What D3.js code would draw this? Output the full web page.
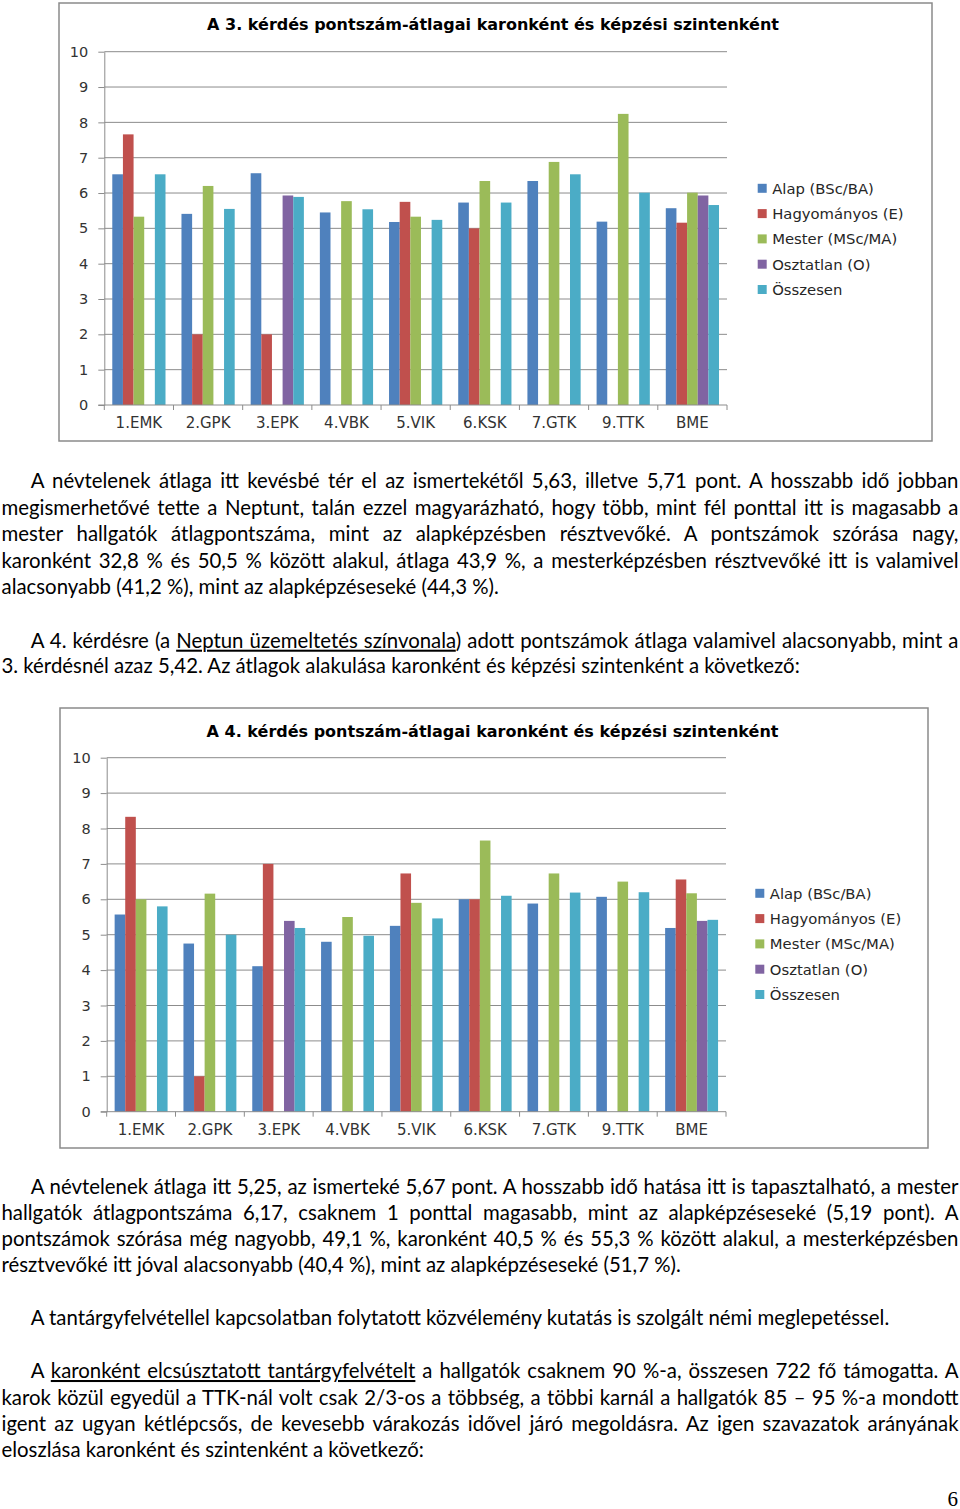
<!DOCTYPE html>
<html>
<head>
<meta charset="utf-8">
<script src="https://cdn.jsdelivr.net/npm/d3@7"></script>
<style>
  body { margin: 0; background: #fff; }
  svg { display: block; }
</style>
</head>
<body>
<div id="page"></div>
<script>
// karok + sorozatok
const categories = ["1.EMK", "2.GPK", "3.EPK", "4.VBK", "5.VIK", "6.KSK", "7.GTK", "9.TTK", "BME"];
const seriesNames = ["Alap (BSc/BA)", "Hagyományos (E)", "Mester (MSc/MA)", "Osztatlan (O)", "Összesen"];
const seriesColors = ["#4f81bd", "#c0504d", "#9bbb59", "#8064a2", "#4bacc6"];
const yTicks = [0, 1, 2, 3, 4, 5, 6, 7, 8, 9, 10];

// 3. kérdés
const q3Alap      = [6.53, 5.41, 6.56, 5.45, 5.18, 5.73, 6.34, 5.19, 5.57];
const q3Hagy      = [7.66, 2.0, 2.0, null, 5.75, 5.0, null, null, 5.16];
const q3Mester    = [5.33, 6.2, null, 5.77, 5.33, 6.34, 6.88, 8.24, 6.01];
const q3Osztatlan = [null, null, 5.93, null, null, null, null, null, 5.93];
const q3Osszesen  = [6.53, 5.55, 5.89, 5.54, 5.24, 5.73, 6.53, 6.01, 5.66];

// 4. kérdés
const q4Alap      = [5.57, 4.75, 4.11, 4.8, 5.25, 6.0, 5.88, 6.07, 5.19];
const q4Hagy      = [8.33, 1.0, 7.0, null, 6.73, 6.0, null, null, 6.56];
const q4Mester    = [6.0, 6.16, null, 5.5, 5.9, 7.66, 6.73, 6.5, 6.17];
const q4Osztatlan = [null, null, 5.39, null, null, null, null, null, 5.39];
const q4Osszesen  = [5.8, 5.0, 5.19, 4.97, 5.46, 6.1, 6.19, 6.2, 5.42];

const W = 960, H = 1509;
const svg = d3.select("#page").append("svg")
    .attr("width", W)
    .attr("height", H);

const chartFont = "'DejaVu Sans', Verdana, sans-serif";

function drawChart(cfg, title, series) {
    const g = svg.append("g");

    // keret
    g.append("rect")
        .attr("x", cfg.fx).attr("y", cfg.fy)
        .attr("width", cfg.fw).attr("height", cfg.fh)
        .attr("fill", "#fff")
        .attr("stroke", "#8a8a8a")
        .attr("stroke-width", 1.5);

    g.append("text")
        .attr("x", cfg.titleX).attr("y", cfg.titleY)
        .attr("text-anchor", "middle")
        .attr("font-family", chartFont)
        .attr("font-weight", "bold")
        .attr("font-size", 16)
        .attr("fill", "#000")
        .text(title);

    const x0 = d3.scaleBand()
        .domain(categories)
        .range([cfg.left, cfg.right])
        .paddingInner(3 / 13)
        .paddingOuter(1.5 / 13);
    const x1 = d3.scaleBand()
        .domain(d3.range(seriesNames.length))
        .range([0, x0.bandwidth()]);
    const y = d3.scaleLinear()
        .domain([0, 10])
        .range([cfg.bottom, cfg.top]);

    // rácsvonalak
    g.append("g").selectAll("line")
        .data(yTicks.filter(d => d > 0))
        .join("line")
        .attr("x1", cfg.left).attr("x2", cfg.right)
        .attr("y1", d => y(d)).attr("y2", d => y(d))
        .attr("stroke", "#8c8c8c")
        .attr("stroke-width", 1);

    const yAxis = g.append("g")
        .attr("transform", `translate(${cfg.left},0)`)
        .call(d3.axisLeft(y).tickValues(yTicks).tickSize(6).tickSizeOuter(0).tickPadding(10));
    yAxis.select(".domain").attr("stroke", "#8c8c8c");
    yAxis.selectAll(".tick line").attr("stroke", "#8c8c8c");
    yAxis.selectAll(".tick text")
        .attr("font-family", chartFont)
        .attr("font-size", 14.5)
        .attr("fill", "#333");

    // oszlopok
    const rows = categories.map((c, i) => ({ cat: c, vals: series.map(s => s[i]) }));
    g.append("g").selectAll("g")
        .data(rows)
        .join("g")
        .attr("transform", d => `translate(${x0(d.cat)},0)`)
        .selectAll("rect")
        .data(d => d.vals.map((v, k) => ({ v, k })).filter(e => e.v != null))
        .join("rect")
        .attr("x", e => x1(e.k))
        .attr("y", e => y(e.v))
        .attr("width", x1.bandwidth())
        .attr("height", e => y(0) - y(e.v))
        .attr("fill", e => seriesColors[e.k]);

    // x tengely
    g.append("line")
        .attr("x1", cfg.left - 6).attr("x2", cfg.right)
        .attr("y1", y(0)).attr("y2", y(0))
        .attr("stroke", "#8c8c8c");
    const step = x0.step();
    g.append("g").selectAll("line")
        .data(d3.range(categories.length + 1))
        .join("line")
        .attr("x1", i => cfg.left + i * step).attr("x2", i => cfg.left + i * step)
        .attr("y1", y(0)).attr("y2", y(0) + 5)
        .attr("stroke", "#8c8c8c");
    g.append("g").selectAll("text")
        .data(categories)
        .join("text")
        .attr("x", d => x0(d) + x0.bandwidth() / 2)
        .attr("y", y(0) + 23)
        .attr("text-anchor", "middle")
        .attr("font-family", chartFont)
        .attr("font-size", 15)
        .attr("fill", "#333")
        .text(d => d);

    // jelmagyarázat
    const lg = g.append("g").selectAll("g")
        .data(seriesNames)
        .join("g")
        .attr("transform", (d, i) => `translate(${cfg.legX},${cfg.legY + i * 25.3})`);
    lg.append("rect")
        .attr("x", 0).attr("y", -4.5)
        .attr("width", 9).attr("height", 9)
        .attr("fill", (d, i) => seriesColors[i]);
    lg.append("text")
        .attr("x", 14.5).attr("dy", "0.36em")
        .attr("font-family", chartFont)
        .attr("font-size", 14.8)
        .attr("fill", "#262626")
        .text(d => d);
}

drawChart(
    { fx: 59, fy: 3, fw: 873, fh: 438, left: 104.3, right: 727, top: 51.7, bottom: 405,
      titleX: 493, titleY: 30, legX: 757.7, legY: 188.3 },
    "A 3. kérdés pontszám-átlagai karonként és képzési szintenként",
    [q3Alap, q3Hagy, q3Mester, q3Osztatlan, q3Osszesen]
);
drawChart(
    { fx: 60, fy: 708, fw: 868, fh: 440, left: 106.7, right: 726, top: 757.7, bottom: 1111.7,
      titleX: 492.5, titleY: 736.5, legX: 755.3, legY: 893.3 },
    "A 4. kérdés pontszám-átlagai karonként és képzési szintenként",
    [q4Alap, q4Hagy, q4Mester, q4Osztatlan, q4Osszesen]
);

// szöveg sorai: [szegmensek, alapvonal, behúzás, sorkizárt]
const textLines = [
    [["A névtelenek átlaga itt kevésbé tér el az ismertekétől 5,63, illetve 5,71 pont. A hosszabb idő jobban"], 488.3, true, true],
    [["megismerhetővé tette a Neptunt, talán ezzel magyarázható, hogy több, mint fél ponttal itt is magasabb a"], 515, false, true],
    [["mester hallgatók átlagpontszáma, mint az alapképzésben résztvevőké. A pontszámok szórása nagy,"], 541, false, true],
    [["karonként 32,8 % és 50,5 % között alakul, átlaga 43,9 %, a mesterképzésben résztvevőké itt is valamivel"], 567.7, false, true],
    [["alacsonyabb (41,2 %), mint az alapképzéseseké (44,3 %)."], 593.7, false, false],
    [["A 4. kérdésre (a ", { u: "Neptun üzemeltetés színvonala" }, ") adott pontszámok átlaga valamivel alacsonyabb, mint a"], 647.7, true, true],
    [["3. kérdésnél azaz 5,42. Az átlagok alakulása karonként és képzési szintenként a következő:"], 673, false, false],
    [["A névtelenek átlaga itt 5,25, az ismerteké 5,67 pont. A hosszabb idő hatása itt is tapasztalható, a mester"], 1194, true, true],
    [["hallgatók átlagpontszáma 6,17, csaknem 1 ponttal magasabb, mint az alapképzéseseké (5,19 pont). A"], 1220, false, true],
    [["pontszámok szórása még nagyobb, 49,1 %, karonként 40,5 % és 55,3 % között alakul, a mesterképzésben"], 1246, false, true],
    [["résztvevőké itt jóval alacsonyabb (40,4 %), mint az alapképzéseseké (51,7 %)."], 1271.7, false, false],
    [["A tantárgyfelvétellel kapcsolatban folytatott közvélemény kutatás is szolgált némi meglepetéssel."], 1325, true, false],
    [["A ", { u: "karonként elcsúsztatott tantárgyfelvételt" }, " a hallgatók csaknem 90 %-a, összesen 722 fő támogatta. A"], 1378, true, true],
    [["karok közül egyedül a TTK-nál volt csak 2/3-os a többség, a többi karnál a hallgatók 85 – 95 %-a mondott"], 1405, false, true],
    [["igent az ugyan kétlépcsős, de kevesebb várakozás idővel járó megoldásra. Az igen szavazatok arányának"], 1431, false, true],
    [["eloszlása karonként és szintenként a következő:"], 1456.7, false, false]
];

const bodyFont = "Lato, 'Open Sans', sans-serif";
const leftEdge = 1.5, indentX = 30.7, rightEdge = 958.5;

// betűméret a 7. sor hosszából
const probe = svg.append("text")
    .attr("font-family", bodyFont).attr("font-size", 18)
    .text(textLines[6][0][0]);
const probeW = probe.node().getComputedTextLength();
probe.remove();
const bodySize = 18 * (800 - leftEdge) / probeW;

const tg = svg.append("g");
textLines.forEach(([segs, base, indent, justify]) => {
    const x = indent ? indentX : leftEdge;
    const t = tg.append("text")
        .attr("x", x).attr("y", base)
        .attr("font-family", bodyFont)
        .attr("font-size", bodySize)
        .attr("fill", "#000");
    segs.forEach(s => {
        const ts = t.append("tspan").text(typeof s === "string" ? s : s.u);
        if (typeof s !== "string") ts.style("text-decoration", "underline");
    });
    if (justify) {
        const full = segs.map(s => typeof s === "string" ? s : s.u).join("");
        const spaces = (full.match(/ /g) || []).length;
        const w = t.node().getComputedTextLength();
        t.style("word-spacing", ((rightEdge - x - w) / spaces) + "px");
    }
});

// oldalszám
svg.append("text")
    .attr("x", 958).attr("y", 1505.5)
    .attr("text-anchor", "end")
    .attr("font-family", "'Liberation Serif', 'Times New Roman', serif")
    .attr("font-size", 21)
    .text("6");
</script>
</body>
</html>
